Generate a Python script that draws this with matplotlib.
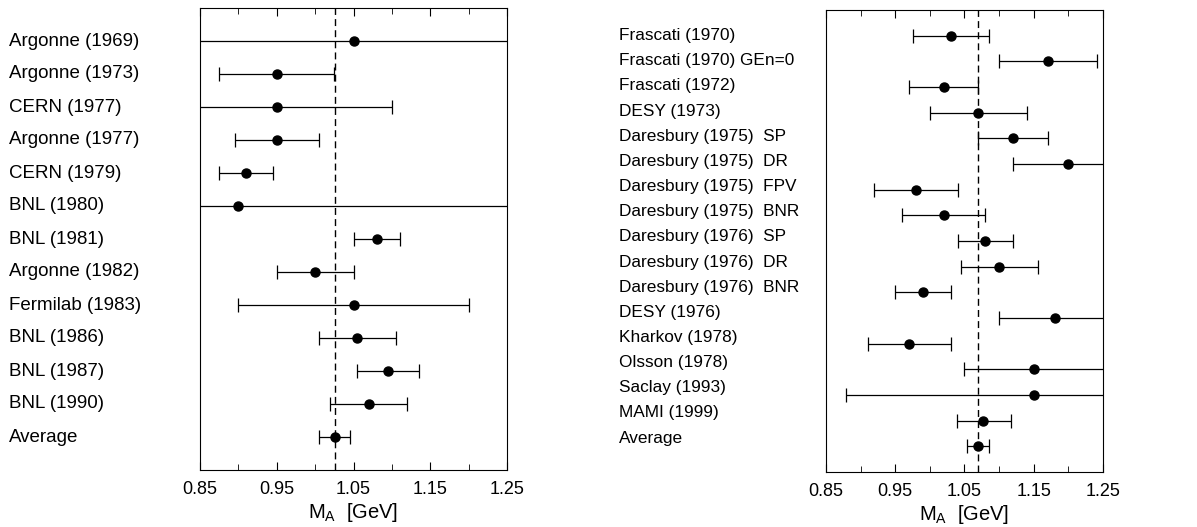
import matplotlib
matplotlib.use("Agg")
import matplotlib.pyplot as plt
from matplotlib.ticker import MultipleLocator
from matplotlib.transforms import blended_transform_factory

plt.rcParams['font.family'] = ['Liberation Sans', 'DejaVu Sans']

# left panel: neutrino scattering
left_labels = ["Argonne (1969)", "Argonne (1973)", "CERN (1977)", "Argonne (1977)",
               "CERN (1979)", "BNL (1980)", "BNL (1981)", "Argonne (1982)",
               "Fermilab (1983)", "BNL (1986)", "BNL (1987)", "BNL (1990)", "Average"]
left_val = [1.05, 0.95, 0.95, 0.95, 0.91, 0.90, 1.08, 1.00, 1.05, 1.055, 1.095, 1.07, 1.026]
left_lo = [0.70, 0.875, 0.70, 0.896, 0.875, 0.70, 1.05, 0.95, 0.90, 1.005, 1.055, 1.019, 1.005]
left_hi = [1.40, 1.025, 1.10, 1.005, 0.945, 1.40, 1.11, 1.05, 1.20, 1.105, 1.135, 1.12, 1.046]
left_avg = 1.026

# right panel: pion electroproduction
right_labels = ["Frascati (1970)", "Frascati (1970) GEn=0", "Frascati (1972)", "DESY (1973)",
                "Daresbury (1975)  SP", "Daresbury (1975)  DR", "Daresbury (1975)  FPV",
                "Daresbury (1975)  BNR", "Daresbury (1976)  SP", "Daresbury (1976)  DR",
                "Daresbury (1976)  BNR", "DESY (1976)", "Kharkov (1978)", "Olsson (1978)",
                "Saclay (1993)", "MAMI (1999)", "Average"]
right_val = [1.03, 1.17, 1.02, 1.07, 1.12, 1.20, 0.98, 1.02, 1.08, 1.10, 0.99, 1.18,
             0.97, 1.15, 1.15, 1.077, 1.069]
right_lo = [0.975, 1.10, 0.97, 1.00, 1.07, 1.12, 0.92, 0.96, 1.04, 1.045, 0.95, 1.10,
            0.91, 1.05, 0.879, 1.039, 1.053]
right_hi = [1.085, 1.241, 1.069, 1.14, 1.17, 1.30, 1.04, 1.08, 1.12, 1.156, 1.03, 1.30,
            1.03, 1.30, 1.30, 1.117, 1.085]
right_avg = 1.069

fig = plt.figure(figsize=(11.97, 5.27), dpi=100)
W, H = 1197, 527


def panel(rect, labels, val, lo, hi, avg, label_x, fs, label_step=1.0):
    ax = fig.add_axes(rect)
    n = len(labels)
    y = list(range(1, n + 1))
    xerr = [[v - l for v, l in zip(val, lo)], [h - v for v, h in zip(val, hi)]]
    ax.axvline(avg, color='black', ls=(0, (5, 3)), lw=1)
    ax.errorbar(val, y, xerr=xerr, fmt='o', color='black', ms=6.5, elinewidth=0.9,
                capsize=5, capthick=0.9)
    ax.set_xlim(0.85, 1.25)
    ax.set_ylim(n + 1, 0)
    ax.set_yticks([])
    ax.xaxis.set_minor_locator(MultipleLocator(0.05))
    ax.set_xticks([0.85, 0.95, 1.05, 1.15, 1.25])
    ax.set_xticklabels(["0.85", "0.95", "1.05", "1.15", "1.25"], fontsize=13)
    ax.tick_params(axis='x', which='both', direction='in', top=True, pad=8)
    ax.tick_params(axis='x', which='major', length=6)
    ax.tick_params(axis='x', which='minor', length=4)
    ax.set_xlabel("M$_{\\mathregular{A}}$  [GeV]", fontsize=14.5, labelpad=2)
    tr = blended_transform_factory(fig.transFigure, ax.transData)
    for i, lab in enumerate(labels):
        ax.text(label_x / W, 1 + i * label_step, lab, transform=tr,
                ha='left', va='center', fontsize=fs)
    return ax


panel([200 / W, 1 - 470 / H, 307 / W, 462 / H], left_labels, left_val, left_lo, left_hi,
      left_avg, 9, 13.5)
panel([826 / W, 1 - 472 / H, 277 / W, 462 / H], right_labels, right_val, right_lo, right_hi,
      right_avg, 619, 12.4, label_step=0.98)

fig.savefig("out.png", dpi=100)
